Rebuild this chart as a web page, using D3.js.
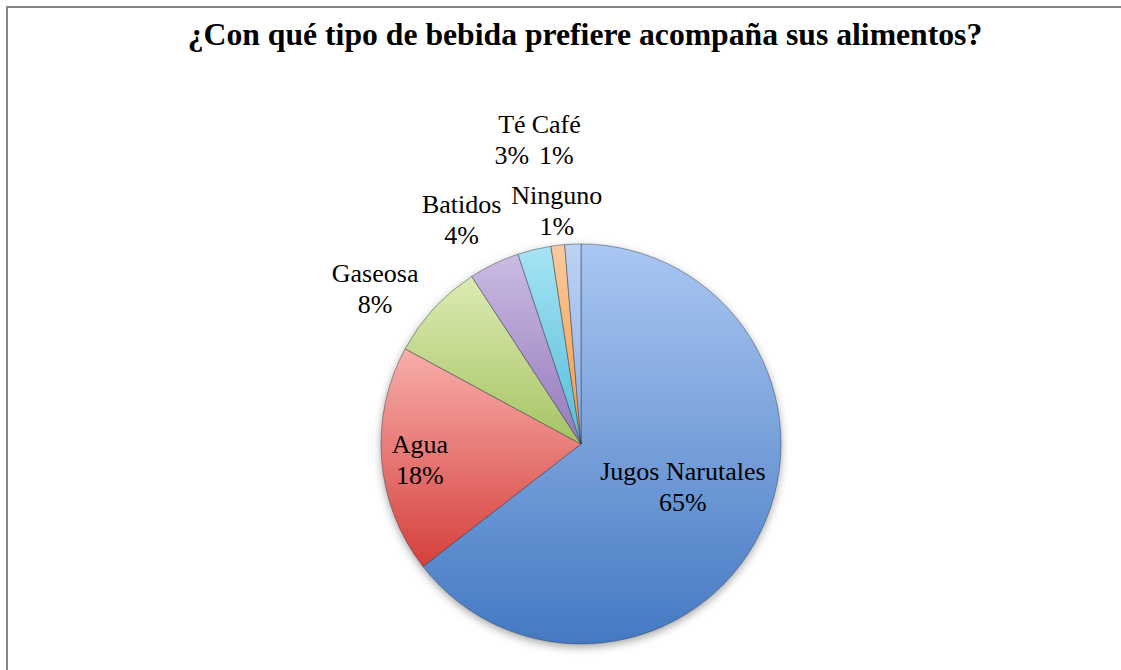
<!DOCTYPE html>
<html>
<head>
<meta charset="utf-8">
<script src="https://cdn.jsdelivr.net/npm/d3@7"></script>
<style>
  html, body { margin: 0; padding: 0; background: #fff; overflow: hidden; }
  svg { display: block; }
  text { font-family: "Liberation Serif", "Times New Roman", Times, serif; }
</style>
</head>
<body>
<svg id="chart" width="1121" height="670"></svg>
<script>
// ---- data ----
const title = "¿Con qué tipo de bebida prefiere acompaña sus alimentos?";
const categories = ["Jugos Narutales", "Agua", "Gaseosa", "Batidos", "Té", "Café", "Ninguno"];
const values = [64.5, 18.4, 7.9, 4.1, 2.7, 1.1, 1.3];

// ---- styles / layout (not data) ----
const lightColors = ["#aac7f2", "#f8aeab", "#dcebb3", "#cbbbe2", "#a6e3f4", "#fbcb9e", "#bdd2f3"];
const darkColors  = ["#4479c2", "#d5403b", "#a5c463", "#9479bd", "#55bcd8", "#f5973f", "#8aade4"];
const labelRadiusFactor = [0.553, 0.81, 1.29, 1.27, 1.56, 1.525, 1.17];
const labelAngleOffsetDeg = [-3.2, -1, -5.6, -2.3, 0.7, 2, -3.6];

const W = 1121, H = 670;
const cx = 581, cy = 444, R = 200;
const serif = "'Liberation Serif', 'Times New Roman', Times, serif";

const svg = d3.select("#chart");
const defs = svg.append("defs");

// frame
svg.append("rect")
  .attr("x", 7).attr("y", 7)
  .attr("width", W + 50).attr("height", H + 50)
  .attr("fill", "#fff").attr("stroke", "#868686").attr("stroke-width", 2);

// title
svg.append("text")
  .attr("x", 585).attr("y", 45)
  .attr("text-anchor", "middle")
  .style("font-family", serif)
  .attr("font-weight", "bold")
  .attr("font-size", 31.7)
  .attr("fill", "#000")
  .text(title);

// gradients
categories.forEach((c, i) => {
  const g = defs.append("linearGradient")
    .attr("id", "grad" + i)
    .attr("x1", 0).attr("y1", 0).attr("x2", 0).attr("y2", 1);
  g.append("stop").attr("offset", "0%").attr("stop-color", lightColors[i]);
  g.append("stop").attr("offset", "100%").attr("stop-color", darkColors[i]);
});

const shadow = defs.append("filter").attr("id", "shadow")
  .attr("x", "-20%").attr("y", "-20%").attr("width", "140%").attr("height", "140%");
shadow.append("feDropShadow")
  .attr("dx", 0).attr("dy", 3).attr("stdDeviation", 4)
  .attr("flood-color", "#000").attr("flood-opacity", 0.35);

const pie = d3.pie().sort(null).value(d => d)
  .startAngle(0).endAngle(2 * Math.PI);
const arcs = pie(values);
const arc = d3.arc().innerRadius(0).outerRadius(R);

const g = svg.append("g").attr("transform", `translate(${cx},${cy})`);

g.append("g").attr("filter", "url(#shadow)")
  .selectAll("path")
  .data(arcs)
  .join("path")
  .attr("d", arc)
  .attr("fill", (d, i) => `url(#grad${i})`)
  .attr("stroke", "rgba(40,50,70,0.45)")
  .attr("stroke-width", 1)
  .attr("stroke-linejoin", "round");

// labels
const fmt = v => Math.round(v) + "%";
const labels = g.append("g");

arcs.forEach((d, i) => {
  const mid = (d.startAngle + d.endAngle) / 2 + labelAngleOffsetDeg[i] * Math.PI / 180;
  const rr = R * labelRadiusFactor[i];
  const x = rr * Math.sin(mid);
  const y = -rr * Math.cos(mid);
  const t = labels.append("text")
    .attr("x", x).attr("y", y)
    .attr("text-anchor", "middle")
    .style("font-family", serif)
    .attr("font-size", 26)
    .attr("fill", "#000");
  t.append("tspan").attr("x", x).attr("y", y - 7).text(categories[i]);
  t.append("tspan").attr("x", x).attr("y", y + 24).text(fmt(values[i]));
});
</script>
</body>
</html>
